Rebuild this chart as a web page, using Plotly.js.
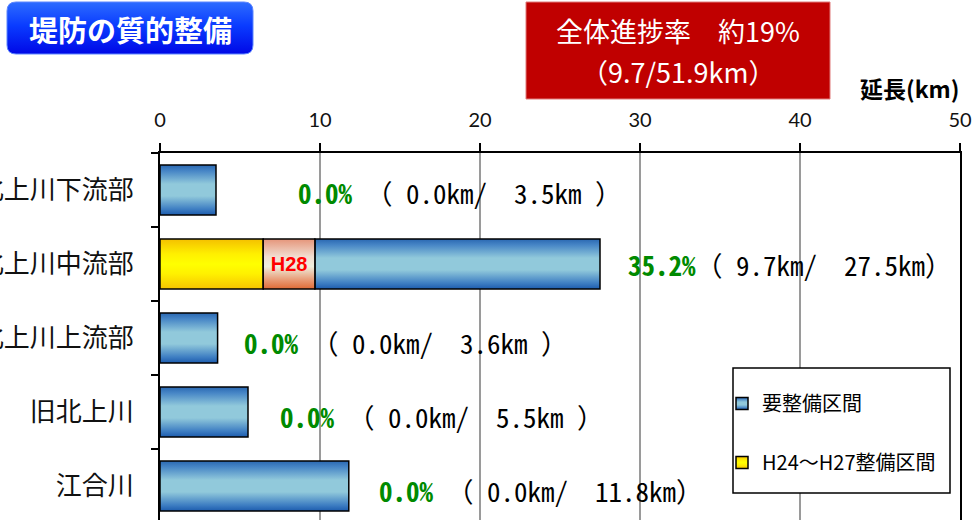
<!DOCTYPE html>
<html><head><meta charset="utf-8">
<script src="https://cdn.plot.ly/plotly-3.0.1.min.js"></script>
<style>html,body{margin:0;padding:0;background:#fff}#chart{width:973px;height:520px}</style>
</head><body><div id="chart"></div>
<script>
// ---- data ----
const categories = ['北上川下流部', '北上川中流部', '北上川上流部', '旧北上川', '江合川'];
const totalKm = [3.5, 27.5, 3.6, 5.5, 11.8];
const doneH24H27Km = [0, 6.45, 0, 0, 0];
const doneH28Km = [0, 3.23, 0, 0, 0];
const xTickVals = [0, 10, 20, 30, 40, 50];
const seriesNames = ['要整備区間', 'H24～H27整備区間', 'H28'];
const chartTitle = '堤防の質的整備';
const axisTitle = '延長(km)';

// ---- derived ----
const doneKm = doneH24H27Km.map((v, i) => Math.round((v + doneH28Km[i]) * 100) / 100);
const remainKm = totalKm.map((t, i) => Math.round((t - doneKm[i]) * 100) / 100);
const totalAll = totalKm.reduce((a, b) => a + b, 0);
const doneAll = doneKm.reduce((a, b) => a + b, 0);

// ---- layout geometry ----
const W = 973, H = 520, ML = 160, MR = 13, MT = 153, MB = 0;
const PW = W - ML - MR, PH = H - MT - MB;
const px = p => (p - ML) / PW;
const py = p => (H - MB - p) / PH;

const CJK = '"Noto Sans CJK JP", "Noto Sans", sans-serif';
const MONO = '"Noto Sans Mono CJK JP", "DejaVu Sans Mono", monospace';
const NB = '\u00a0';
const BAR_W = 0.675;

function seg(name, lengths, bases, color, extra) {
  return Object.assign({
    type: 'bar', orientation: 'h', name: name, y: categories,
    x: lengths.map(v => v > 0 ? v : null),
    base: bases, width: BAR_W,
    marker: {color: color, line: {color: '#000', width: 1.5}},
    hoverinfo: 'skip', legendgroup: name
  }, extra || {});
}

const traces = [
  seg(seriesNames[0], remainKm, doneKm, '#5f9fd2', {legendrank: 1}),
  seg(seriesNames[1], doneH24H27Km, categories.map(() => 0), '#ffee00', {legendrank: 2}),
  seg(seriesNames[2], doneH28Km, doneH24H27Km, '#eba080', {
    showlegend: false,
    text: doneH28Km.map(v => v > 0 ? seriesNames[2] : ''),
    textposition: 'inside', insidetextanchor: 'middle', constraintext: 'none',
    textfont: {family: 'Liberation Sans, Arial, sans-serif', size: 20, color: '#ff0000', weight: 'bold'}
  })
];

// value labels
const labelShiftPx = [80, 26, 24, 30, 28];
const labelYShift = [-2, -1, -5, -5, -5];
const annotations = categories.map((c, i) => {
  const pct = (doneKm[i] / totalKm[i] * 100).toFixed(1) + '%';
  const d = doneKm[i].toFixed(1);
  const t = totalKm[i].toFixed(1);
  const gap1 = pct.length < 5 ? NB : '';
  const gap2 = t.length < 4 ? NB : '';
  const text = '<b><span style="color:#008a00">' + pct + '</span></b>' + gap1 + '（' +
    (d.length < 4 ? NB : '') + d + 'km/' + NB + NB + t + 'km' + gap2 + '）';
  return {x: totalKm[i], y: c, xref: 'x', yref: 'y', xanchor: 'left', yanchor: 'middle',
    xshift: labelShiftPx[i], yshift: labelYShift[i], showarrow: false, text: text,
    font: {family: MONO, size: 27, color: '#000'}};
});

annotations.push(
  {xref: 'paper', yref: 'paper', x: px(130), y: py(29), xanchor: 'center', yanchor: 'middle',
    showarrow: false, text: '<b>' + chartTitle + '</b>',
    font: {family: CJK, size: 29, color: '#fff'}},
  {xref: 'paper', yref: 'paper', x: px(678), y: py(31), xanchor: 'center', yanchor: 'middle', showarrow: false,
    text: '全体進捗率' + '\u3000' + '約' + Math.round(doneAll / totalAll * 100) + '%',
    font: {family: CJK, size: 27, color: '#fff'}},
  {xref: 'paper', yref: 'paper', x: px(678), y: py(72), xanchor: 'center', yanchor: 'middle', showarrow: false,
    text: '（' + doneAll.toFixed(1) + '/' + totalAll.toFixed(1) + 'km）',
    font: {family: CJK, size: 27, color: '#fff'}},
  {xref: 'paper', yref: 'paper', x: px(961), y: py(88), xanchor: 'right', yanchor: 'middle', showarrow: false,
    text: '<b>' + axisTitle + '</b>', font: {family: CJK, size: 23, color: '#000'}}
);

function roundRect(x0, y0, x1, y1, r) {
  const rx = r / PW, ry = r / PH;
  const a = px(x0), b = px(x1), top = py(y0), bot = py(y1);
  return 'M' + (a + rx) + ',' + top + ' L' + (b - rx) + ',' + top + ' Q' + b + ',' + top + ' ' + b + ',' + (top - ry) +
    ' L' + b + ',' + (bot + ry) + ' Q' + b + ',' + bot + ' ' + (b - rx) + ',' + bot +
    ' L' + (a + rx) + ',' + bot + ' Q' + a + ',' + bot + ' ' + a + ',' + (bot + ry) +
    ' L' + a + ',' + (top - ry) + ' Q' + a + ',' + top + ' ' + (a + rx) + ',' + top + ' Z';
}

const shapes = [
  {type: 'path', xref: 'paper', yref: 'paper', path: roundRect(7, 2, 253, 54, 9),
    fillcolor: '#0a3cff', line: {color: '#5d86ff', width: 1}, layer: 'below'},
  {type: 'rect', xref: 'paper', yref: 'paper', x0: px(526), x1: px(830), y0: py(99), y1: py(2),
    fillcolor: '#c00000', line: {color: '#e07a7a', width: 1}, layer: 'below'},
  {type: 'rect', xref: 'paper', yref: 'paper', x0: px(733), x1: px(950), y0: py(493), y1: py(368),
    fillcolor: '#ffffff', line: {color: '#000', width: 1.5}, layer: 'above'}
];

const layout = {
  width: W, height: H,
  margin: {l: ML, r: MR, t: MT, b: MB, pad: 0},
  paper_bgcolor: '#fff', plot_bgcolor: '#fff',
  barmode: 'overlay',
  showlegend: true,
  legend: {x: px(722), y: py(384), xanchor: 'left', yanchor: 'top', bgcolor: 'rgba(0,0,0,0)',
    borderwidth: 0, font: {family: CJK, size: 20, color: '#000'}, tracegroupgap: 30, itemwidth: 30},
  xaxis: {side: 'top', range: [0, 50], tickvals: xTickVals, ticktext: xTickVals.map(String),
    ticks: 'outside', ticklen: 8, tickwidth: 1.5, tickcolor: '#000',
    showline: true, linecolor: '#000', linewidth: 2, mirror: false,
    showgrid: true, gridcolor: '#9a9a9a', gridwidth: 1.5, zeroline: false,
    tickfont: {family: 'Lato, "Open Sans", sans-serif', size: 20, color: '#111'},
    ticklabelstandoff: 8, fixedrange: true},
  yaxis: {type: 'category', autorange: false, range: [4.46, -0.5],
    tickson: 'boundaries', ticks: 'outside', ticklen: 7, tickwidth: 1.5, tickcolor: '#000',
    showline: true, linecolor: '#000', linewidth: 2, mirror: true,
    showgrid: false, zeroline: false,
    tickfont: {family: CJK, size: 26, color: '#111'}, ticklabelstandoff: 19, fixedrange: true},
  annotations: annotations,
  shapes: shapes
};

const gradients = {
  gBlue: [[0, '#2a68b2'], [0.12, '#4786c6'], [0.38, '#91c9db'], [0.62, '#91c9db'], [0.88, '#3f7fc3'], [1, '#1d5cae']],
  gYellow: [[0, '#f4c000'], [0.3, '#fff000'], [0.5, '#ffff00'], [0.7, '#fff000'], [1, '#f6c400']],
  gH28: [[0, '#e5957a'], [0.35, '#f1ddd0'], [0.55, '#eeeedd'], [0.8, '#e9a07c'], [1, '#df6a36']],
  gTitle: [[0, '#2d6cff'], [0.45, '#0a3cff'], [1, '#0008e6']]
};
const barGrad = ['gBlue', 'gYellow', 'gH28'];
const nameGrad = {};
nameGrad[seriesNames[0]] = 'gBlue';
nameGrad[seriesNames[1]] = 'gYellow';

function applyGradients(gd) {
  const NS = 'http://www.w3.org/2000/svg';
  const svg = gd.querySelector('.main-svg');
  if (!svg) return;
  let defs = svg.querySelector('defs');
  if (!defs) { defs = document.createElementNS(NS, 'defs'); svg.insertBefore(defs, svg.firstChild); }
  Object.keys(gradients).forEach(id => {
    if (document.getElementById(id)) return;
    const lg = document.createElementNS(NS, 'linearGradient');
    lg.setAttribute('id', id);
    lg.setAttribute('x1', '0'); lg.setAttribute('y1', '0');
    lg.setAttribute('x2', '0'); lg.setAttribute('y2', '1');
    gradients[id].forEach(s => {
      const st = document.createElementNS(NS, 'stop');
      st.setAttribute('offset', s[0]);
      st.setAttribute('stop-color', s[1]);
      lg.appendChild(st);
    });
    defs.appendChild(lg);
  });
  gd.querySelectorAll('.barlayer .trace.bars').forEach((t, i) => {
    t.querySelectorAll('.point path').forEach(p => { p.style.fill = 'url(#' + barGrad[i] + ')'; });
  });
  gd.querySelectorAll('.legend .traces').forEach(tr => {
    const txt = tr.querySelector('.legendtext');
    const id = txt && nameGrad[txt.getAttribute('data-unformatted') || txt.textContent];
    if (id) tr.querySelectorAll('.legendpoints path').forEach(p => { p.style.fill = 'url(#' + id + ')'; });
  });
  const tp = gd.querySelector('.shapelayer path[data-index="0"]');
  if (tp) tp.style.fill = 'url(#gTitle)';
}

const gd = document.getElementById('chart');
Plotly.newPlot(gd, traces, layout, {displayModeBar: false, staticPlot: true}).then(() => {
  applyGradients(gd);
  gd.on('plotly_afterplot', () => applyGradients(gd));
});
</script>
</body></html>
